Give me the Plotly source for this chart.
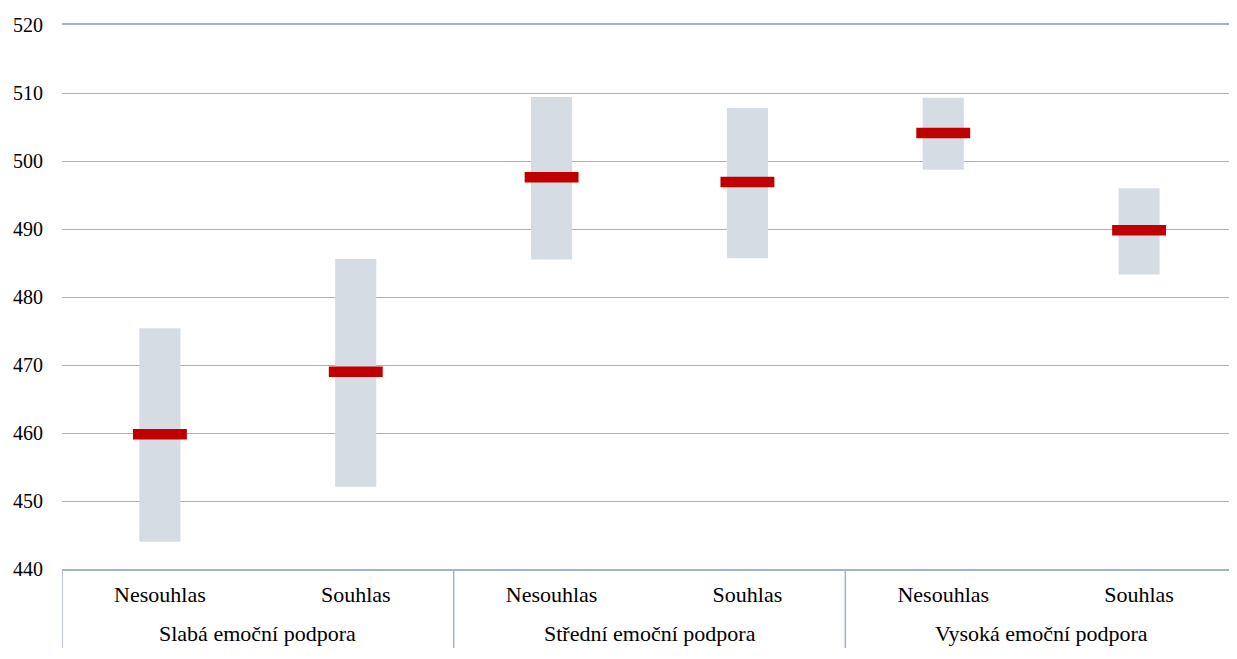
import plotly.graph_objects as go

group_names = ["Slabá emoční podpora", "Střední emoční podpora", "Vysoká emoční podpora"]
answers = ["Nesouhlas", "Souhlas", "Nesouhlas", "Souhlas", "Nesouhlas", "Souhlas"]
low = [444.0, 452.1, 485.5, 485.7, 498.7, 483.3]
high = [475.4, 485.6, 509.4, 507.8, 509.3, 496.0]
mean = [459.8, 469.0, 497.6, 496.9, 504.1, 489.8]
y_ticks = [440, 450, 460, 470, 480, 490, 500, 510, 520]

GRID = "#a3b2cb"
FONT = "Liberation Serif"
PLOT_H = 544  # plot area height in px

xpos = list(range(len(answers)))

fig = go.Figure()
fig.add_trace(go.Bar(
    x=xpos,
    y=[h - l for h, l in zip(high, low)],
    base=low,
    width=0.21,
    marker=dict(color="#d5dce4", line=dict(width=0)),
    hoverinfo="skip",
))
fig.add_trace(go.Scatter(
    x=xpos,
    y=mean,
    mode="markers",
    marker=dict(symbol="line-ew", size=38.5, line=dict(width=10.5, color="#c00000"), color="#c00000"),
))

# group labels and dividers
for gi, name in enumerate(group_names):
    fig.add_annotation(
        x=2 * gi + 0.5, xref="x",
        y=-64 / PLOT_H, yref="paper",
        text=name, showarrow=False,
        yanchor="middle", xanchor="center",
        font=dict(family=FONT, size=22, color="#000000"),
    )
for d in [-0.5, 1.5, 3.5]:
    fig.add_shape(
        type="line", xref="x", yref="paper",
        x0=d, x1=d, y0=0, y1=-79 / PLOT_H,
        line=dict(color=GRID, width=1.5),
    )

fig.update_layout(
    width=1229, height=643,
    margin=dict(l=54, r=0, t=17, b=82),
    paper_bgcolor="white", plot_bgcolor="white",
    showlegend=False,
    font=dict(family=FONT, size=20, color="#000000"),
    xaxis=dict(
        range=[-0.5, 5.5],
        tickvals=xpos, ticktext=answers,
        showline=True, mirror=True, linecolor=GRID, linewidth=1.5,
        showgrid=False, zeroline=False,
        ticks="outside", ticklen=5, tickcolor="rgba(0,0,0,0)",
        tickfont=dict(family=FONT, size=22),
    ),
    yaxis=dict(
        range=[440, 520], tickvals=y_ticks,
        showgrid=True, gridcolor=GRID, gridwidth=1.3,
        zeroline=False, showline=False,
        ticks="", ticklabelstandoff=18,
        tickfont=dict(family=FONT, size=20),
    ),
)

fig.write_html("out.html")
